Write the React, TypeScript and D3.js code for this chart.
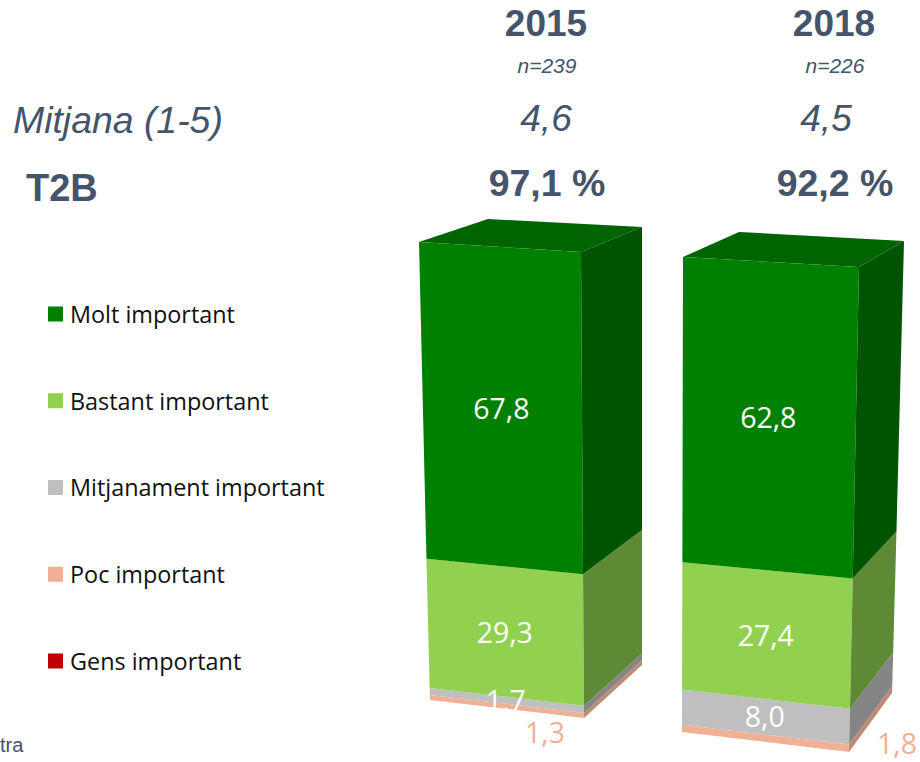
import * as d3 from 'd3'

const years = ['2015', '2018']
const sampleSizes = ['n=239', 'n=226']
const means = ['4,6', '4,5']
const t2b = ['97,1 %', '92,2 %']

const seriesNames = ['Gens important', 'Poc important', 'Mitjanament important', 'Bastant important', 'Molt important']
const gens = [0, 0]
const poc = [1.3, 1.8]
const mitjanament = [1.7, 8.0]
const bastant = [29.3, 27.4]
const molt = [67.8, 62.8]

const frontColors = ['#C00000', '#F0B096', '#BFBFBF', '#92D050', '#008000']
const sideColors = ['#800000', '#C08A70', '#858585', '#5F8A35', '#005400']
const topColor = '#006400'
const ink = '#44546A'
const legendOrder = [4, 3, 2, 1, 0]

type Pt = [number, number]
// the corners of each box as drawn: [bottom, top] of the three visible vertical edges, plus the back-left top corner
const boxes: { frontLeft: Pt[]; frontRight: Pt[]; backRight: Pt[]; backLeftTop: Pt; centerX: number; meanX: number; outside: Pt }[] = [
  {
    frontLeft: [[430, 700], [419, 242]],
    frontRight: [[584, 718], [581, 252]],
    backRight: [[642, 665], [642, 227]],
    backLeftTop: [488, 219],
    centerX: 546,
    meanX: 546,
    outside: [545, 733],
  },
  {
    frontLeft: [[682, 732], [683, 257]],
    frontRight: [[849, 752], [859, 267]],
    backRight: [[892, 693], [904, 241]],
    backLeftTop: [739, 232],
    centerX: 834,
    meanX: 826,
    outside: [897, 744],
  },
]

const rows = years.map((year, i) => ({
  year,
  gens: gens[i],
  poc: poc[i],
  mitjanament: mitjanament[i],
  bastant: bastant[i],
  molt: molt[i],
}))
const stacked = d3.stack<any>().keys(['gens', 'poc', 'mitjanament', 'bastant', 'molt'])(rows)

// slight perspective: bands get a little taller towards the top of the box
const edgeScale = (edge: Pt[], total: number) => {
  const sx = d3.scaleLinear().domain([0, total]).range([edge[0][0], edge[1][0]])
  const sy = d3.scalePow().exponent(1.04).domain([0, total]).range([edge[0][1], edge[1][1]])
  return (v: number): Pt => [sx(v), sy(v)]
}
const poly = d3.line().curve(d3.curveLinearClosed)

const headFont = '"Liberation Sans", Arial, sans-serif'
const bodyFont = '"Open Sans", sans-serif'

export default function App() {
  return (
    <svg width={920} height={762} style={{ position: 'absolute', left: 0, top: 0, background: '#fff' }}>
      <g fontFamily={headFont} fill={ink} textAnchor="middle">
        {boxes.map((b, i) => (
          <g key={years[i]}>
            <text x={b.centerX} y={36} fontSize={37} fontWeight={700}>{years[i]}</text>
            <text x={b.centerX + 1} y={73} fontSize={21} fontStyle="italic">{sampleSizes[i]}</text>
            <text x={b.meanX} y={131} fontSize={37} fontStyle="italic">{means[i]}</text>
            <text x={b.centerX + 1} y={196} fontSize={37.5} fontWeight={700}>{t2b[i]}</text>
          </g>
        ))}
        <text x={13} y={133} fontSize={37.4} fontStyle="italic" textAnchor="start">Mitjana (1-5)</text>
        <text x={26} y={201} fontSize={38} fontWeight={700} textAnchor="start">T2B</text>
        <text x={0} y={752} fontSize={20} textAnchor="start">tra</text>
      </g>

      {boxes.map((b, i) => {
        const total = d3.sum(stacked, (s) => s[i][1] - s[i][0])
        const fl = edgeScale(b.frontLeft, total)
        const fr = edgeScale(b.frontRight, total)
        const br = edgeScale(b.backRight, total)
        return (
          <g key={years[i]}>
            <path d={poly([fl(total), b.backLeftTop, br(total), fr(total)]) ?? ''} fill={topColor} />
            {stacked.map((s, k) => {
              const [v0, v1] = s[i]
              if (v1 - v0 <= 0) return null
              return (
                <g key={s.key}>
                  <path d={poly([fl(v0), fr(v0), fr(v1), fl(v1)]) ?? ''} fill={frontColors[k]} />
                  <path d={poly([fr(v0), br(v0), br(v1), fr(v1)]) ?? ''} fill={sideColors[k]} />
                </g>
              )
            })}
            {stacked.map((s, k) => {
              const [v0, v1] = s[i]
              const value = v1 - v0
              if (value <= 0) return null
              const label = value.toFixed(1).replace('.', ',')
              const mid = (v0 + v1) / 2
              const outside = s.key === 'poc'
              const x = outside ? b.outside[0] : (fl(mid)[0] + fr(mid)[0]) / 2 - 1
              const y = outside ? b.outside[1] : (fl(mid)[1] + fr(mid)[1]) / 2
              return (
                <text
                  key={s.key}
                  x={x}
                  y={y}
                  dy="0.36em"
                  textAnchor="middle"
                  fontFamily={bodyFont}
                  fontSize={28.5}
                  fill={outside ? frontColors[k] : '#fff'}
                >
                  {label}
                </text>
              )
            })}
          </g>
        )
      })}

      {legendOrder.map((k, row) => {
        const y = d3.scaleLinear().domain([0, 4]).range([314, 661])(row)
        return (
          <g key={seriesNames[k]}>
            <rect x={48} y={y - 7.5} width={15} height={15} fill={frontColors[k]} />
            <text x={70} y={y + 0.5} dy="0.36em" fontFamily={bodyFont} fontSize={23.4} fill="#111">
              {seriesNames[k]}
            </text>
          </g>
        )
      })}
    </svg>
  )
}
